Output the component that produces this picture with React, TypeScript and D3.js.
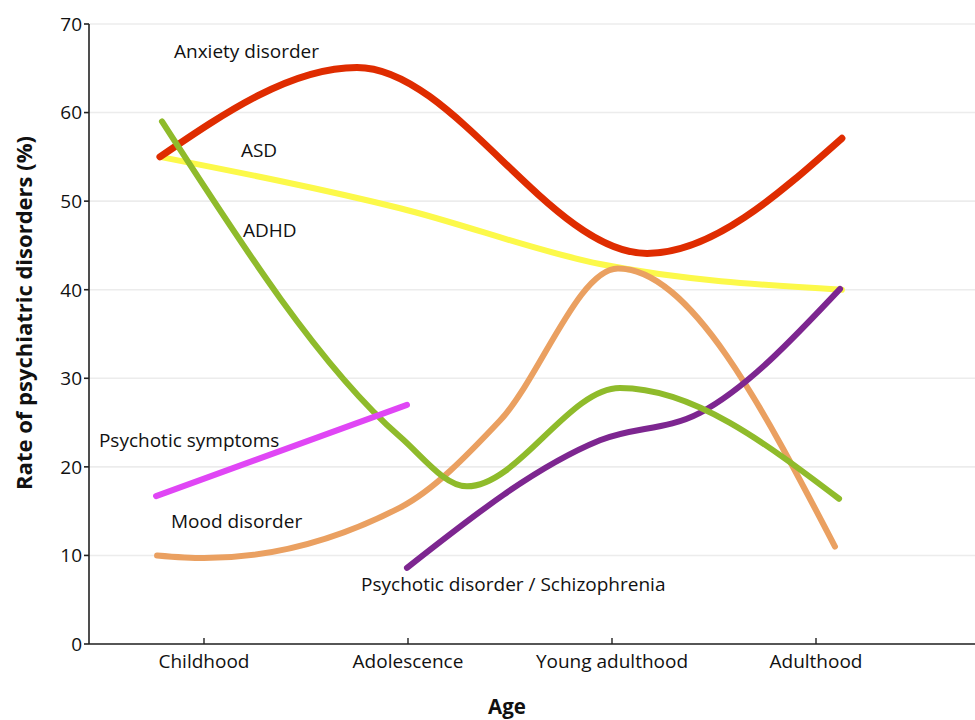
import React from "react";
import * as d3 from "d3";

// ---------- data ----------
const categories = ["Childhood", "Adolescence", "Young adulthood", "Adulthood"];
const categoryPos = [0, 1, 2, 3];
const yTicks = [0, 10, 20, 30, 40, 50, 60, 70];

// each point: [age position (0 = Childhood ... 3 = Adulthood), rate %]
const anxiety: [number, number][] = [
  [-0.216, 55.0], [0.75, 65.1], [2.172, 44.1], [3.127, 57.1],
];
const asd: [number, number][] = [
  [-0.216, 55.0], [0.961, 49.2], [1.941, 42.9], [3.127, 40.0],
];
const adhd: [number, number][] = [
  [-0.206, 59.0], [0.961, 23.4], [1.289, 17.8], [2.039, 28.9], [3.113, 16.4],
];
const mood: [number, number][] = [
  [-0.23, 10.0], [0.0, 9.7], [0.961, 15.4], [1.45, 25.2], [2.029, 42.4], [3.093, 11.0],
];
const psychoticDisorder: [number, number][] = [
  [0.995, 8.6], [1.941, 23.0], [2.431, 26.1], [3.118, 40.1],
];
const psychoticSymptoms: [number, number][] = [
  [-0.235, 16.7], [0.995, 27.0],
];

// drawing order: first drawn lies underneath
const seriesNames = [
  "ASD", "Anxiety disorder", "Mood disorder",
  "Psychotic disorder / Schizophrenia", "ADHD", "Psychotic symptoms",
];
const seriesData = [asd, anxiety, mood, psychoticDisorder, adhd, psychoticSymptoms];
const seriesColors = ["#fcf94a", "#df2c00", "#eaa061", "#7d2690", "#8fbb2b", "#e046f5"];
const seriesWidths = [6, 7, 6, 6, 6, 6];

// label anchors [age position, rate]
const labelPos: [number, number][] = [
  [0.181, 54.98], [-0.147, 66.16], [-0.162, 13.1], [0.77, 5.98],
  [0.191, 45.95], [-0.515, 22.24],
];

export default function App() {
  const W = 975, H = 720;
  const left = 89, right = 975, top = 24, bottom = 644;
  const x = d3.scaleLinear().domain([-0.5637, 3.7794]).range([left, right]);
  const y = d3.scaleLinear().domain([0, 70]).range([bottom, top]);
  const line = d3
    .line<[number, number]>()
    .x((d) => x(d[0]))
    .y((d) => y(d[1]))
    .curve(d3.curveMonotoneX);
  const font = "'Open Sans', sans-serif";

  return (
    <svg
      width={W}
      height={H}
      style={{ position: "absolute", left: 0, top: 0, background: "#fff" }}
      fontFamily={font}
    >
      {/* grid */}
      {yTicks.map((t) => (
        <line key={"g" + t} x1={left} x2={right} y1={y(t)} y2={y(t)}
          stroke="#ececec" strokeWidth={1.6} />
      ))}
      {/* series */}
      {seriesData.map((s, i) => (
        <path key={"s" + i} d={line(s) || ""} fill="none" stroke={seriesColors[i]}
          strokeWidth={seriesWidths[i]} strokeLinecap="round" strokeLinejoin="round" />
      ))}
      {/* series labels */}
      {seriesNames.map((n, i) => (
        <text key={"l" + i} x={x(labelPos[i][0])} y={y(labelPos[i][1])}
          fontSize={19} fill="#111">{n}</text>
      ))}
      {/* y axis */}
      <line x1={left} x2={left} y1={top} y2={bottom} stroke="#222" strokeWidth={1.6} />
      {yTicks.map((t) => (
        <g key={"yt" + t}>
          <line x1={left - 5} x2={left} y1={y(t)} y2={y(t)} stroke="#222" strokeWidth={1.6} />
          <text x={82} y={y(t)} dy="0.36em" textAnchor="end" fontSize={19} fill="#111">{t}</text>
        </g>
      ))}
      {/* x axis */}
      <line x1={left} x2={right} y1={bottom} y2={bottom} stroke="#222" strokeWidth={1.6} />
      {categories.map((c, i) => (
        <g key={"xt" + c}>
          <line x1={x(categoryPos[i])} x2={x(categoryPos[i])} y1={bottom - 6} y2={bottom}
            stroke="#222" strokeWidth={1.4} />
          <text x={x(categoryPos[i])} y={668} textAnchor="middle" fontSize={19} fill="#111">{c}</text>
        </g>
      ))}
      {/* axis titles */}
      <text x={507} y={714} textAnchor="middle" fontSize={20.5} fontWeight={700} fill="#111">Age</text>
      <text transform="translate(32,313) rotate(-90)" textAnchor="middle" fontSize={22}
        fontWeight={700} fill="#111">Rate of psychiatric disorders (%)</text>
    </svg>
  );
}
